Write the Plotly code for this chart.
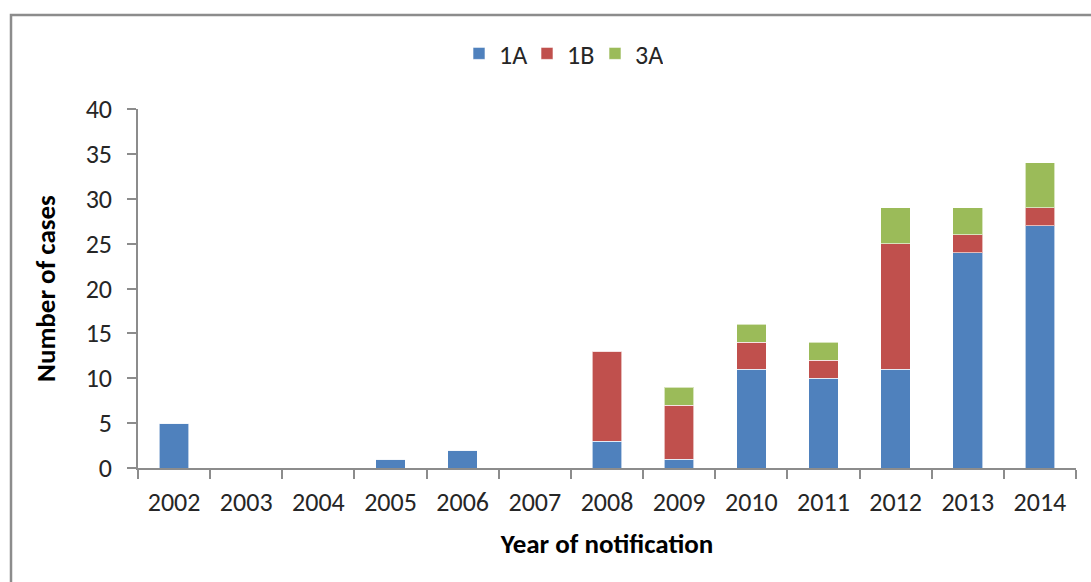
import plotly.graph_objects as go

# Cases by year of notification, split by type
years = ["2002", "2003", "2004", "2005", "2006", "2007", "2008",
         "2009", "2010", "2011", "2012", "2013", "2014"]
cases_1a = [5, 0, 0, 1, 2, 0, 3, 1, 11, 10, 11, 24, 27]
cases_1b = [0, 0, 0, 0, 0, 0, 10, 6, 3, 2, 14, 2, 2]
cases_3a = [0, 0, 0, 0, 0, 0, 0, 2, 2, 2, 4, 3, 5]

series = [
    ("1A", cases_1a, "#4F81BD"),
    ("1B", cases_1b, "#C0504D"),
    ("3A", cases_3a, "#9BBB59"),
]

font_family = "Carlito, Calibri, Lato, sans-serif"

fig = go.Figure()
for name, vals, color in series:
    fig.add_trace(go.Bar(
        x=years, y=vals, name=name,
        marker=dict(color=color, line=dict(color="rgba(255,255,255,0.6)", width=1)),
        width=0.41,
    ))

W, H = 1091, 582
ml, mr, mt, mb = 138, 15, 109, 114
pw, ph = W - ml - mr, H - mt - mb

def px_x(x):
    return (x - ml) / pw

def px_y(y):
    return (H - mb - y) / ph

fig.update_layout(
    width=W, height=H,
    barmode="stack",
    margin=dict(l=ml, r=mr, t=mt, b=mb),
    paper_bgcolor="white",
    plot_bgcolor="white",
    font=dict(family=font_family, size=26, color="#262626"),
    showlegend=True,
    legend=dict(
        orientation="h", x=px_x(561), xanchor="center", y=px_y(30), yanchor="top",
        font=dict(size=26, color="#262626"), traceorder="normal",
        itemwidth=30, entrywidth=23, entrywidthmode="pixels",
    ),
    xaxis=dict(
        type="category",
        showline=True, linecolor="#8C8C8C", linewidth=1.5,
        ticks="outside", tickson="boundaries", ticklen=9, tickcolor="#8C8C8C",
        tickwidth=1.5,
        ticklabelstandoff=10,
        showgrid=False,
        title=dict(text="<b>Year of notification</b>", font=dict(size=27, color="#000"),
                   standoff=17),
    ),
    yaxis=dict(
        range=[0, 40], dtick=5,
        showline=True, linecolor="#8C8C8C", linewidth=1.5,
        ticks="outside", ticklen=9, tickcolor="#8C8C8C", tickwidth=1.5,
        ticklabelstandoff=10,
        showgrid=False, zeroline=False,
        title=dict(text="<b>Number of cases</b>", font=dict(size=27, color="#000"),
                   standoff=22),
    ),
    shapes=[dict(
        type="rect", xref="paper", yref="paper",
        x0=px_x(11), x1=px_x(1120), y0=px_y(620), y1=px_y(15),
        line=dict(color="#8C8C8C", width=2.5), layer="below",
    )],
)

fig.write_html("out.html")
